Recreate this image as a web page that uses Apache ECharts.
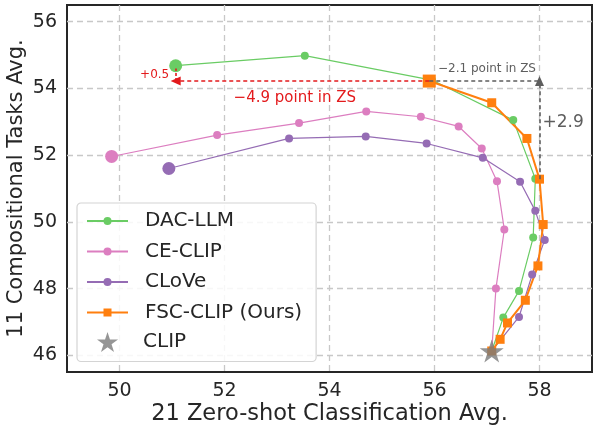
<!DOCTYPE html>
<html>
<head>
<meta charset="utf-8">
<script src="https://cdn.jsdelivr.net/npm/echarts@6/dist/echarts.min.js"></script>
<style>html,body{margin:0;padding:0;background:#fff;}#c{width:594px;height:428px;}</style>
</head>
<body>
<div id="c"></div>
<script>
// ---- data ----
const xTicks = [50, 52, 54, 56, 58];
const yTicks = [46, 48, 50, 52, 54, 56];
const clipPoint = [57.09, 46.13];
const dacLLM = [[57.09, 46.13], [57.31, 47.13], [57.61, 47.93], [57.88, 49.53], [57.92, 51.29], [57.50, 53.05], [55.95, 54.25], [53.53, 54.98], [51.07, 54.68]];
const ceCLIP = [[57.09, 46.13], [57.17, 48.00], [57.33, 49.77], [57.19, 51.22], [56.90, 52.20], [56.46, 52.86], [55.74, 53.15], [54.70, 53.31], [53.42, 52.96], [51.86, 52.60], [49.85, 51.96]];
const cloVe = [[57.09, 46.13], [57.61, 47.15], [57.86, 48.42], [58.10, 49.46], [57.92, 50.33], [57.63, 51.20], [56.92, 51.92], [55.85, 52.35], [54.69, 52.56], [53.23, 52.50], [50.94, 51.60]];
const fscCLIP = [[57.09, 46.13], [57.25, 46.48], [57.39, 46.97], [57.73, 47.65], [57.97, 48.68], [58.07, 49.92], [58.00, 51.28], [57.76, 52.50], [57.09, 53.57], [55.90, 54.22]];
// annotation anchors (data space)
const redArrow = [[55.90, 54.22], [51.07, 54.22]];
const redTick = [[51.07, 54.22], [51.07, 54.60]];
const grayHoriz = [[55.90, 54.22], [58.00, 54.22]];
const grayVert = [[58.00, 51.28], [58.00, 54.22]];
const textRed49 = [53.34, 53.71];
const textRed05 = [50.67, 54.40];
const textGray21 = [57.00, 54.58];
const textGray29 = [58.45, 52.99];

const FONT = 'DejaVu Sans';
const TXT = '#262626';
const STAR = 'path://M50,0 L61.2,34.5 L97.6,34.5 L68.2,55.9 L79.4,90.5 L50,69.1 L20.6,90.5 L31.8,55.9 L2.4,34.5 L38.8,34.5 Z';

function withEnd(arr, big) {
  return arr.map((p, i) => i === arr.length - 1 ? { value: p, symbolSize: big } : p);
}
function lineSeries(name, arr, color, symbol, size, big, width) {
  return {
    name: name, type: 'line', data: withEnd(arr, big),
    symbol: symbol, symbolSize: size, showSymbol: true,
    lineStyle: { color: color, width: width },
    itemStyle: { color: color },
    emphasis: { disabled: true }, animation: false
  };
}

const chart = echarts.init(document.getElementById('c'), null, { renderer: 'canvas' });
const grayC = '#5e5e5e';
const redC = '#e31a1c';

const annot = {
  name: 'annot', type: 'line', data: [], silent: true, animation: false,
  markLine: {
    silent: true, animation: false, label: { show: false },
    data: [
      [{ coord: redArrow[0], symbol: 'none', lineStyle: { color: redC, type: [4, 3], width: 1.6 } }, { coord: redArrow[1], symbol: 'triangle', symbolSize: [9, 10], symbolRotate: 90 }],
      [{ coord: redTick[0], symbol: 'none', lineStyle: { color: redC, type: [3, 2], width: 1.6 } }, { coord: redTick[1], symbol: 'none' }],
      [{ coord: grayHoriz[0], symbol: 'none', lineStyle: { color: grayC, type: [4, 3], width: 1.6 } }, { coord: grayHoriz[1], symbol: 'none' }],
      [{ coord: grayVert[0], symbol: 'none', lineStyle: { color: grayC, type: [4, 3], width: 1.6 } }, { coord: grayVert[1], symbol: 'triangle', symbolSize: [9, 10] }]
    ]
  },
  markPoint: {
    silent: true, animation: false, symbol: 'circle', symbolSize: 0,
    data: [
      { coord: textRed49, label: { show: true, position: 'inside', formatter: '−4.9 point in ZS', color: redC, fontSize: 15, fontFamily: FONT } },
      { coord: textRed05, label: { show: true, position: 'inside', formatter: '+0.5', color: redC, fontSize: 12, fontFamily: FONT } },
      { coord: textGray21, label: { show: true, position: 'inside', formatter: '−2.1 point in ZS', color: grayC, fontSize: 12, fontFamily: FONT } },
      { coord: textGray29, label: { show: true, position: 'inside', formatter: '+2.9', color: grayC, fontSize: 17, fontFamily: FONT } }
    ]
  }
};

const option = {
  backgroundColor: '#ffffff',
  animation: false,
  textStyle: { fontFamily: FONT },
  grid: { left: 67, right: 2, top: 5, bottom: 56, show: true, borderColor: '#262626', borderWidth: 2, backgroundColor: 'transparent', outerBoundsMode: 'none', containLabel: false },
  xAxis: {
    type: 'value', min: 49, max: 59,
    name: '21 Zero-shot Classification Avg.', nameLocation: 'middle', nameGap: 31, nameMoveOverlap: false,
    nameTextStyle: { fontSize: 22.5, color: TXT, fontFamily: FONT },
    axisLine: { show: false }, 
    axisTick: { show: false, customValues: xTicks },
    axisLabel: { customValues: xTicks, fontSize: 19, color: TXT, margin: 10, fontFamily: FONT },
    splitLine: { show: true, lineStyle: { color: '#c8c8c8', type: [6, 4], width: 1.3 } }
  },
  yAxis: {
    type: 'value', min: 45.5, max: 56.5,
    name: '11 Compositional Tasks Avg.', nameLocation: 'middle', nameGap: 40, nameMoveOverlap: false,
    nameTextStyle: { fontSize: 21, color: TXT, fontFamily: FONT },
    axisLine: { show: false },
    axisTick: { show: false, customValues: yTicks },
    axisLabel: { customValues: yTicks, fontSize: 19, color: TXT, margin: 10, fontFamily: FONT },
    splitLine: { show: true, lineStyle: { color: '#c8c8c8', type: [6, 4], width: 1.3 } }
  },
  legend: [
    {
      data: ['DAC-LLM', 'CE-CLIP', 'CLoVe', 'FSC-CLIP (Ours)'],
      orient: 'vertical', left: 77, top: 203,
      padding: [8, 14, 39, 9], itemGap: 10.5, itemWidth: 41, itemHeight: 10,
      borderColor: '#d4d4d4', borderWidth: 1.2, borderRadius: 4, backgroundColor: 'rgba(255,255,255,0.85)',
      textStyle: { fontSize: 20, color: TXT, fontFamily: FONT, padding: [0, 0, 0, 12] },
      selectedMode: false, inactiveColor: TXT
    },
    {
      data: ['CLIP'], orient: 'vertical', left: 97, top: 332, padding: 0,
      itemWidth: 41, itemHeight: 20,
      textStyle: { fontSize: 20, color: TXT, fontFamily: FONT, padding: [0, 0, 0, 10] },
      selectedMode: false
    }
  ],
  series: [
    lineSeries('DAC-LLM', dacLLM, '#6acc64', 'circle', 8, 13, 1.2),
    lineSeries('CE-CLIP', ceCLIP, '#dc7ec0', 'circle', 8, 13, 1.2),
    lineSeries('CLoVe', cloVe, '#956cb4', 'circle', 8, 13, 1.2),
    lineSeries('FSC-CLIP (Ours)', fscCLIP, '#ff7f0e', 'rect', 9, 13, 2),
    annot,
    {
      name: 'CLIP', type: 'scatter', data: [clipPoint], symbol: STAR, symbolSize: 24, symbolKeepAspect: true,
      itemStyle: { color: '#7a7a7a' }, z: 10, emphasis: { disabled: true }, animation: false
    }
  ]
};
chart.setOption(option);
</script>
</body>
</html>
